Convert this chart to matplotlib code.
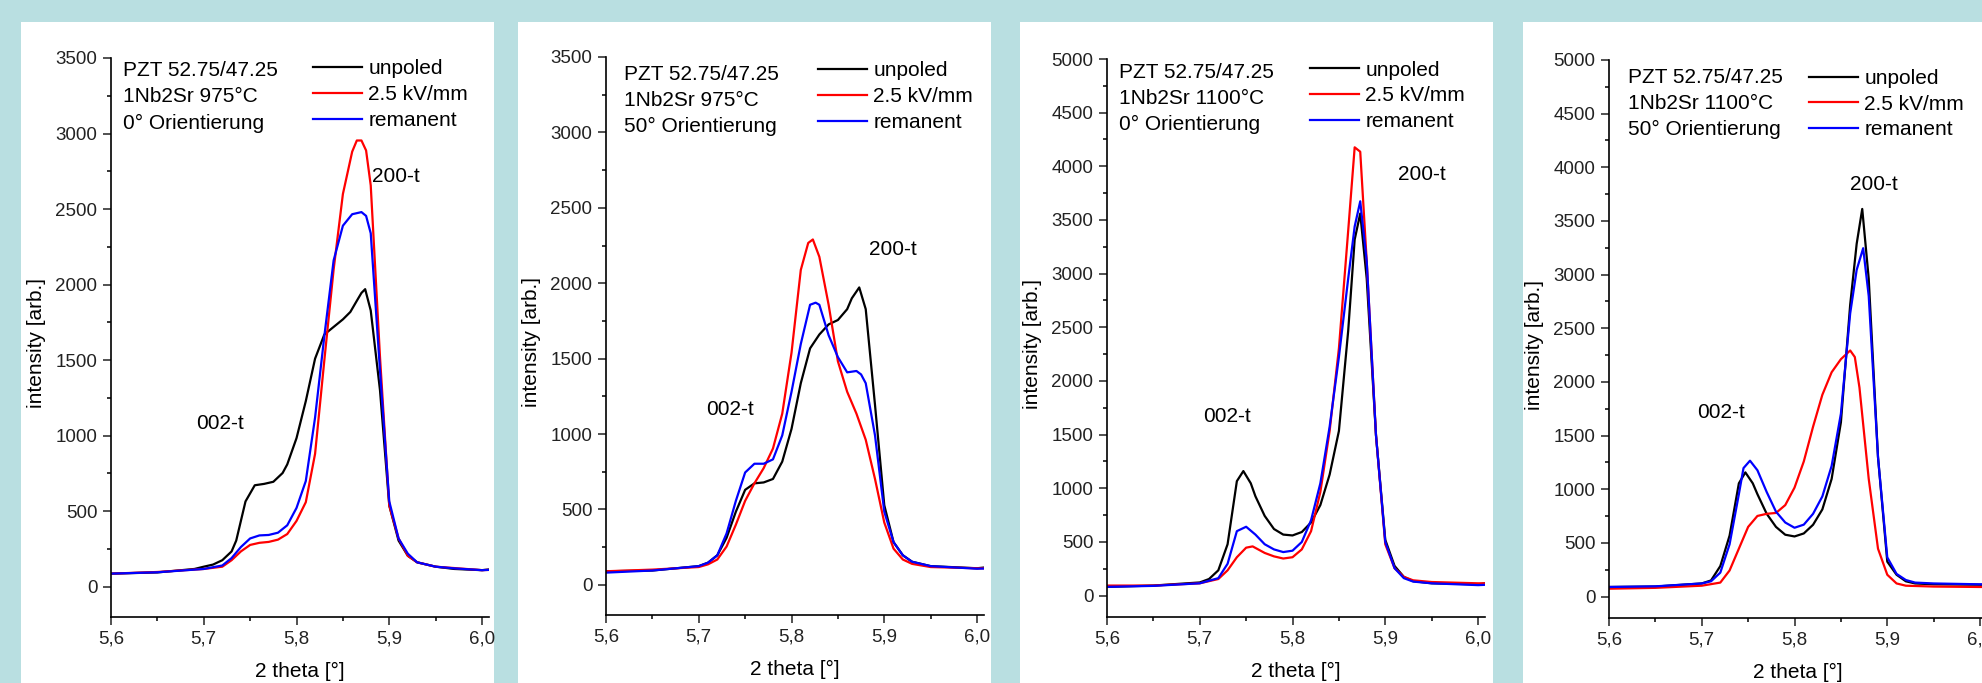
import numpy as np
import matplotlib
matplotlib.use('Agg')
import matplotlib.pyplot as plt
from matplotlib.patches import Rectangle
from matplotlib.ticker import MultipleLocator, FuncFormatter

plt.rcParams['font.family'] = ['Liberation Sans', 'DejaVu Sans']

# text of the four panels
composition = 'PZT 52.75/47.25'
samples = ['1Nb2Sr 975°C', '1Nb2Sr 975°C', '1Nb2Sr 1100°C', '1Nb2Sr 1100°C']
orientations = ['0° Orientierung', '50° Orientierung', '0° Orientierung', '50° Orientierung']
series_names = ['unpoled', '2.5 kV/mm', 'remanent']
y_max = [3500, 3500, 5000, 5000]

# panel 1 : 975 C, 0 deg
p1_unpoled_x = [5.60, 5.65, 5.69, 5.70, 5.71, 5.72, 5.73, 5.735, 5.745, 5.755, 5.765, 5.775, 5.785, 5.79, 5.80,
                5.81, 5.82, 5.83, 5.84, 5.85, 5.858, 5.865, 5.87, 5.874, 5.88, 5.89, 5.90, 5.91, 5.92, 5.93,
                5.95, 5.97, 6.00, 6.008]
p1_unpoled = [87, 95, 118, 133, 147, 176, 234, 306, 565, 672, 681, 695, 753, 810, 984,
              1229, 1510, 1670, 1720, 1770, 1819, 1893, 1945, 1970, 1829, 1300, 537, 306, 205, 162,
              133, 118, 110, 115]
p1_field_x = [5.60, 5.65, 5.70, 5.72, 5.73, 5.74, 5.75, 5.76, 5.77, 5.78, 5.79, 5.80, 5.81, 5.82, 5.83,
              5.84, 5.85, 5.86, 5.865, 5.87, 5.875, 5.88, 5.89, 5.90, 5.91, 5.92, 5.93, 5.95, 5.97, 6.00, 6.008]
p1_field = [87, 98, 118, 133, 176, 234, 277, 291, 297, 312, 349, 436, 560, 880, 1500,
            2100, 2600, 2880, 2954, 2954, 2888, 2657, 1520, 537, 320, 205, 162, 133, 124, 110, 112]
p1_rem_x = [5.60, 5.65, 5.70, 5.72, 5.73, 5.74, 5.75, 5.76, 5.77, 5.78, 5.79, 5.80, 5.81, 5.82, 5.83,
            5.84, 5.85, 5.86, 5.87, 5.875, 5.88, 5.89, 5.90, 5.91, 5.92, 5.93, 5.95, 5.97, 6.00, 6.008]
p1_rem = [87, 96, 118, 141, 190, 263, 320, 340, 343, 358, 407, 522, 700, 1120, 1660,
          2160, 2390, 2466, 2480, 2455, 2340, 1431, 565, 320, 219, 162, 133, 122, 110, 112]

# panel 2 : 975 C, 50 deg
p2_unpoled_x = [5.60, 5.65, 5.70, 5.71, 5.72, 5.73, 5.74, 5.75, 5.76, 5.77, 5.78, 5.79, 5.80, 5.81, 5.82,
                5.83, 5.84, 5.85, 5.86, 5.865, 5.873, 5.88, 5.89, 5.90, 5.91, 5.92, 5.93, 5.95, 6.00, 6.008]
p2_unpoled = [90, 95, 124, 147, 196, 312, 485, 630, 673, 679, 702, 817, 1034, 1337, 1568,
              1660, 1727, 1756, 1828, 1900, 1972, 1828, 1193, 528, 283, 196, 153, 124, 110, 115]
p2_field_x = [5.60, 5.65, 5.70, 5.71, 5.72, 5.73, 5.74, 5.75, 5.76, 5.77, 5.78, 5.79, 5.80, 5.81, 5.818,
              5.823, 5.83, 5.84, 5.85, 5.86, 5.87, 5.88, 5.89, 5.90, 5.91, 5.92, 5.93, 5.95, 6.00, 6.008]
p2_field = [90, 101, 118, 136, 168, 254, 399, 557, 673, 774, 904, 1135, 1539, 2088, 2267,
            2290, 2175, 1857, 1482, 1280, 1135, 962, 702, 413, 240, 168, 139, 118, 110, 110]
p2_rem_x = [5.60, 5.65, 5.70, 5.71, 5.72, 5.73, 5.74, 5.75, 5.76, 5.77, 5.78, 5.79, 5.80, 5.81, 5.82,
            5.826, 5.83, 5.84, 5.85, 5.86, 5.87, 5.875, 5.88, 5.89, 5.90, 5.91, 5.92, 5.93, 5.95, 6.00, 6.008]
p2_rem = [81, 95, 124, 147, 196, 341, 557, 745, 803, 803, 832, 991, 1280, 1597, 1857,
          1871, 1857, 1655, 1510, 1409, 1418, 1395, 1337, 991, 485, 283, 196, 153, 124, 107, 108]

# panel 3 : 1100 C, 0 deg
p3_unpoled_x = [5.60, 5.65, 5.70, 5.71, 5.72, 5.73, 5.74, 5.747, 5.755, 5.76, 5.77, 5.78, 5.79, 5.80, 5.81,
                5.82, 5.83, 5.84, 5.85, 5.86, 5.867, 5.873, 5.88, 5.89, 5.90, 5.91, 5.92, 5.93, 5.95, 6.00, 6.008]
p3_unpoled = [81, 93, 122, 154, 235, 478, 1066, 1160, 1046, 925, 742, 620, 568, 560, 592,
              681, 843, 1127, 1533, 2465, 3317, 3560, 2952, 1492, 519, 276, 174, 134, 114, 105, 114]
p3_field_x = [5.60, 5.65, 5.70, 5.72, 5.73, 5.74, 5.75, 5.757, 5.77, 5.78, 5.79, 5.80, 5.81, 5.82, 5.83,
              5.84, 5.85, 5.86, 5.867, 5.873, 5.88, 5.89, 5.90, 5.91, 5.92, 5.93, 5.95, 6.00, 6.008]
p3_field = [93, 93, 114, 154, 235, 357, 446, 458, 397, 365, 345, 357, 430, 600, 965,
            1533, 2303, 3398, 4177, 4136, 3114, 1492, 478, 255, 174, 142, 126, 114, 114]
p3_rem_x = [5.60, 5.65, 5.70, 5.72, 5.73, 5.74, 5.75, 5.76, 5.77, 5.78, 5.79, 5.80, 5.81, 5.82, 5.83,
            5.84, 5.85, 5.86, 5.867, 5.873, 5.88, 5.89, 5.90, 5.91, 5.92, 5.93, 5.95, 6.00, 6.008]
p3_rem = [81, 90, 114, 162, 296, 600, 641, 568, 478, 430, 405, 418, 499, 702, 1046,
          1573, 2222, 2952, 3439, 3674, 3114, 1492, 499, 255, 162, 130, 114, 97, 100]

# panel 4 : 1100 C, 50 deg
p4_unpoled_x = [5.60, 5.65, 5.70, 5.71, 5.72, 5.73, 5.74, 5.747, 5.755, 5.76, 5.77, 5.78, 5.79, 5.80, 5.81,
                5.82, 5.83, 5.84, 5.85, 5.86, 5.867, 5.873, 5.88, 5.89, 5.90, 5.91, 5.92, 5.93, 5.95, 6.00, 6.01]
p4_unpoled = [89, 93, 122, 150, 284, 568, 1055, 1157, 1055, 954, 771, 649, 576, 560, 588,
              669, 812, 1096, 1623, 2719, 3287, 3612, 2962, 1299, 325, 203, 142, 122, 114, 110, 110]
p4_field_x = [5.60, 5.65, 5.70, 5.72, 5.73, 5.74, 5.75, 5.76, 5.77, 5.78, 5.79, 5.80, 5.81, 5.82, 5.83,
              5.84, 5.85, 5.86, 5.865, 5.87, 5.88, 5.89, 5.90, 5.91, 5.92, 5.95, 6.00, 6.01]
p4_field = [73, 81, 101, 130, 243, 446, 649, 751, 771, 779, 852, 1015, 1259, 1583, 1880,
            2090, 2212, 2293, 2232, 1948, 1096, 446, 203, 122, 101, 93, 89, 89]
p4_rem_x = [5.60, 5.65, 5.70, 5.71, 5.72, 5.73, 5.74, 5.745, 5.752, 5.76, 5.77, 5.78, 5.79, 5.80, 5.81,
            5.82, 5.83, 5.84, 5.85, 5.86, 5.867, 5.874, 5.88, 5.89, 5.90, 5.91, 5.92, 5.93, 5.95, 6.00, 6.01]
p4_rem = [89, 95, 122, 142, 223, 487, 954, 1197, 1266, 1177, 974, 791, 690, 641, 670,
          771, 933, 1217, 1704, 2638, 3044, 3246, 2800, 1299, 365, 211, 154, 130, 122, 114, 114]

panels_x = [(p1_unpoled_x, p1_field_x, p1_rem_x), (p2_unpoled_x, p2_field_x, p2_rem_x),
            (p3_unpoled_x, p3_field_x, p3_rem_x), (p4_unpoled_x, p4_field_x, p4_rem_x)]
panels_y = [(p1_unpoled, p1_field, p1_rem), (p2_unpoled, p2_field, p2_rem),
            (p3_unpoled, p3_field, p3_rem), (p4_unpoled, p4_field, p4_rem)]

# peak labels (data coords)
label_200 = [(5.881, 2718), (5.8836, 2224), (5.914, 3927), (5.860, 3836)]
label_002 = [(5.692, 1084), (5.7075, 1164), (5.7035, 1666), (5.6945, 1713)]

colors = ['black', '#ff0000', '#0000ff']

W, H = 1982, 683
fig = plt.figure(figsize=(W / 100, H / 100), dpi=100)
fig.patch.set_facecolor('#b9dfe1')

# white cards behind each plot, in pixels
card_left = [21, 518, 1020, 1523]
for cl in card_left:
    fig.patches.append(Rectangle((cl / W, 0), 473 / W, 1 - 21.5 / H, transform=fig.transFigure,
                                 facecolor='white', edgecolor='none', zorder=-10))

ax_left = [111, 606, 1107, 1609]
ax_top = [58, 57, 59, 60]
ax_bot = [617, 615, 617, 618]
text_dx = [12, 18, 12, 19]
text_dy = [13, 17, 13, 17.5]
leg_dx = [202, 212, 203, 200]
leg_dy = [13, 16, 13, 20.5]
ax_w = 378

for i in range(4):
    h = ax_bot[i] - ax_top[i]
    ax = fig.add_axes([ax_left[i] / W, 1 - ax_bot[i] / H, ax_w / W, h / H])
    ax.set_facecolor('none')
    for k in range(3):
        ax.plot(panels_x[i][k], panels_y[i][k], color=colors[k], lw=1.6, label=series_names[k])
    ax.set_xlim(5.6, 6.0075)
    ax.set_ylim(-200, y_max[i])
    ax.spines['top'].set_visible(False)
    ax.spines['right'].set_visible(False)
    for s in ['left', 'bottom']:
        ax.spines[s].set_linewidth(1.2)
    ax.xaxis.set_major_locator(MultipleLocator(0.1))
    ax.xaxis.set_minor_locator(MultipleLocator(0.05))
    ax.yaxis.set_major_locator(MultipleLocator(500))
    ax.yaxis.set_minor_locator(MultipleLocator(250))
    ax.set_yticks([v for v in range(0, y_max[i] + 1, 500)])
    ax.xaxis.set_major_formatter(FuncFormatter(lambda v, p: ('%.1f' % v).replace('.', ',')))
    ax.tick_params(which='major', length=5.8, width=1.1, labelsize=13.5, pad=4, colors='#222222')
    ax.tick_params(which='minor', length=3, width=1.1)
    ax.set_xlabel('2 theta [°]', fontsize=15)
    ax.set_ylabel('intensity [arb.]', fontsize=15)
    ax.xaxis.set_label_coords(0.5, -0.08)
    ax.yaxis.set_label_coords(-0.172, 0.49)

    lines = [composition, samples[i], orientations[i]]
    for j, s in enumerate(lines):
        ax.text(text_dx[i] / ax_w, 1 - (text_dy[i] + 26 * j) / h, s, transform=ax.transAxes,
                fontsize=15, ha='left', va='center')
    ax.legend(loc='upper left', bbox_to_anchor=(leg_dx[i] / ax_w, 1 - (leg_dy[i] - 11.5) / h),
              frameon=False, fontsize=15, handlelength=2.35, handletextpad=0.3,
              labelspacing=0.32, borderpad=0, borderaxespad=0)
    ax.text(label_200[i][0], label_200[i][1], '200-t', fontsize=15, ha='left', va='center')
    ax.text(label_002[i][0], label_002[i][1], '002-t', fontsize=15, ha='left', va='center')

fig.savefig('out.png', dpi=100, facecolor=fig.get_facecolor())
